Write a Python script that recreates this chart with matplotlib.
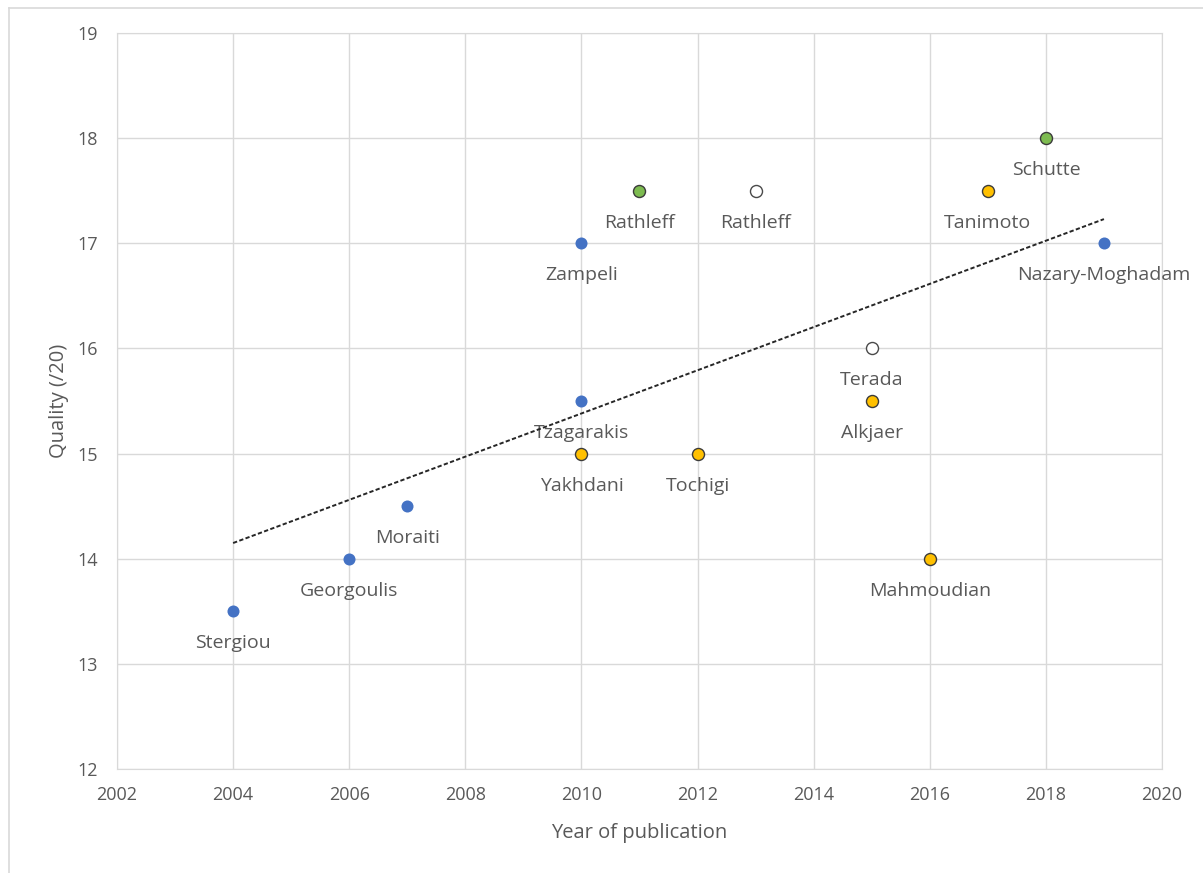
import matplotlib
matplotlib.use("Agg")
import matplotlib.pyplot as plt
from matplotlib.lines import Line2D
import numpy as np

plt.rcParams['font.family'] = ['Open Sans', 'DejaVu Sans']

# study groups (year, quality score /20, author)
blue_year = [2004, 2006, 2007, 2010, 2010, 2019]
blue_q = [13.5, 14, 14.5, 17, 15.5, 17]
blue_names = ['Stergiou', 'Georgoulis', 'Moraiti', 'Zampeli', 'Tzagarakis', 'Nazary-Moghadam']

orange_year = [2010, 2012, 2015, 2016, 2017]
orange_q = [15, 15, 15.5, 14, 17.5]
orange_names = ['Yakhdani', 'Tochigi', 'Alkjaer', 'Mahmoudian', 'Tanimoto']

green_year = [2011, 2018]
green_q = [17.5, 18]
green_names = ['Rathleff', 'Schutte']

white_year = [2013, 2015]
white_q = [17.5, 16]
white_names = ['Rathleff', 'Terada']

xticks = list(range(2002, 2021, 2))
yticks = list(range(12, 20))

grey = '#595959'

fig = plt.figure(figsize=(12.03, 8.73), dpi=100)
ax = fig.add_axes([117/1203, 104/873, 1045/1203, 736/873])

groups = [
    (blue_year, blue_q, blue_names, '#4472C4', '#4472C4', 0),
    (orange_year, orange_q, orange_names, '#FFC000', '#3b3b3b', 1.0),
    (green_year, green_q, green_names, '#7DBB50', '#3b3b3b', 1.0),
    (white_year, white_q, white_names, 'white', '#4a4a4a', 1.0),
]

for xs, ys, names, fc, ec, lw in groups:
    ax.scatter(xs, ys, s=75, facecolor=fc, edgecolor=ec, linewidth=lw, zorder=4)
    for x, y, n in zip(xs, ys, names):
        ax.annotate(n, (x, y), xytext=(0, -32), textcoords='offset pixels',
                    ha='center', va='center', fontsize=14, color=grey, zorder=3)

# linear trendline over all studies
all_x = np.array(blue_year + orange_year + green_year + white_year, dtype=float)
all_y = np.array(blue_q + orange_q + green_q + white_q, dtype=float)
slope, icpt = np.polyfit(all_x, all_y, 1)
tx = np.array([all_x.min(), all_x.max()])
ax.plot(tx, slope * tx + icpt, color='#262626', linestyle=(0, (2.2, 1.2)), linewidth=1.4, zorder=5)

ax.set_xlim(2002, 2020)
ax.set_ylim(12, 19)
ax.set_xticks(xticks)
ax.set_yticks(yticks)
ax.grid(True, color='#D9D9D9', linewidth=1)
ax.set_axisbelow(True)
for sp in ax.spines.values():
    sp.set_color('#D9D9D9')
ax.tick_params(length=0, labelsize=13, labelcolor=grey)
ax.tick_params(axis='x', pad=12)
ax.tick_params(axis='y', pad=14)

ax.set_xlabel('Year of publication', fontsize=14.5, color=grey, labelpad=14)
ax.set_ylabel('Quality (/20)', fontsize=14.5, color=grey, labelpad=6)

# chart area border
fig.add_artist(Line2D([8.5/1203, 8.5/1203], [0, 865/873], color='#D9D9D9', lw=1.2))
fig.add_artist(Line2D([8.5/1203, 1], [865/873, 865/873], color='#D9D9D9', lw=1.2))

fig.savefig('out.png', dpi=100)
